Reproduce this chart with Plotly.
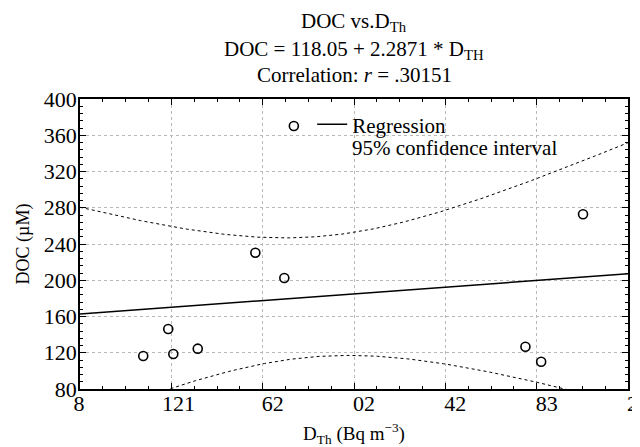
import numpy as np
import plotly.graph_objects as go

# ---- data ----
d_th = [21.75, 22.64, 22.82, 23.69, 25.74, 26.77, 27.11, 35.35, 35.91, 37.40]
doc = [116.4, 146.2, 118.6, 124.5, 230.4, 202.5, 370.2, 126.7, 110.1, 272.8]

intercept = 118.05
slope = 2.2871
t_crit = 2.306  # t(0.975, df = 8)

x_tick_vals = [19.5, 22.75, 26.0, 29.25, 32.5, 35.75, 39.0]
x_tick_text = ["8", "121", "62", "02", "42", "83", "2"]
y_tick_vals = [80, 120, 160, 200, 240, 280, 320, 360, 400]

title_lines = [
    "DOC vs.D<sub>Th</sub>",
    "DOC = 118.05 + 2.2871 * D<sub>TH</sub>",
    "Correlation: <i>r</i> = .30151",
]
ci_label = "95% confidence interval"

# ---- regression & confidence band ----
x = np.array(d_th)
y = np.array(doc)
n = len(x)
xbar = x.mean()
sxx = ((x - xbar) ** 2).sum()
resid = y - (intercept + slope * x)
s = np.sqrt((resid ** 2).sum() / (n - 2))
xs = np.linspace(x_tick_vals[0], x_tick_vals[-1], 200)
yhat = intercept + slope * xs
half = t_crit * s * np.sqrt(1.0 / n + (xs - xbar) ** 2 / sxx)

FONT = "Liberation Serif"
NB = "\u00a0"
# label placement padding (the reference labels sit mostly right of their ticks)
pad_right = [4, 1, 0, 0, 0, 0, 2]
x_labels_display = [t + NB * p for t, p in zip(x_tick_text, pad_right)]

fig = go.Figure()
fig.add_trace(go.Scatter(x=d_th, y=doc, mode="markers", showlegend=False,
                         marker=dict(symbol="circle-open", size=9,
                                     color="black", line=dict(width=1.6))))
fig.add_trace(go.Scatter(x=xs, y=yhat, mode="lines", name="Regression",
                         line=dict(color="black", width=1.5)))
fig.add_trace(go.Scatter(x=xs, y=yhat + half, mode="lines", showlegend=False,
                         name=ci_label,
                         line=dict(color="black", width=1, dash="dot")))
fig.add_trace(go.Scatter(x=xs, y=yhat - half, mode="lines", showlegend=False,
                         name=ci_label,
                         line=dict(color="black", width=1, dash="dot")))

axis_common = dict(
    showline=True, linecolor="black", linewidth=1.5, mirror="allticks",
    ticks="inside", ticklen=6, tickwidth=1, tickcolor="black",
    showgrid=True, gridcolor="#b8b8b8", gridwidth=1, griddash="dot",
    zeroline=False, automargin=False, ticklabeloverflow="allow",
    tickfont=dict(family=FONT, size=22, color="black"),
)

fig.update_xaxes(
    range=[x_tick_vals[0], x_tick_vals[-1]],
    tickmode="array", tickvals=x_tick_vals, ticktext=x_labels_display,
    ticklabelshift=10, ticklabelstandoff=-6,
    minor=dict(ticks="inside", ticklen=3, tickcolor="black",
               dtick=(x_tick_vals[1] - x_tick_vals[0]) / 4,
               tick0=x_tick_vals[0], showgrid=False),
    title=dict(text="D<sub>Th</sub> (Bq m<sup>−3</sup>)",
               font=dict(family=FONT, size=19, color="black"), standoff=16),
    **axis_common,
)
fig.update_yaxes(
    range=[80, 400],
    tickmode="array", tickvals=y_tick_vals,
    ticklabelstandoff=-3,
    minor=dict(ticks="inside", ticklen=3, tickcolor="black",
               dtick=8, tick0=80, showgrid=False),
    title=dict(text="DOC (µM)",
               font=dict(family=FONT, size=18, color="black"), standoff=10),
    **axis_common,
)

title_y = [1.265, 1.168, 1.083]
for txt, ty in zip(title_lines, title_y):
    fig.add_annotation(text=txt, x=0.5, xref="paper", xanchor="center",
                       y=ty, yref="paper", yanchor="middle", showarrow=False,
                       font=dict(family=FONT, size=21, color="black"))

fig.add_annotation(text=ci_label, x=0.4964, xref="paper", xanchor="left",
                   y=0.830, yref="paper", yanchor="middle", showarrow=False,
                   xshift=-2,
                   font=dict(family=FONT, size=21, color="black"))

# the page body has an 8px margin, so the figure is sized/positioned for it
fig.update_layout(
    template="none",
    width=632, height=439,
    margin=dict(l=72, r=12, t=91, b=58, autoexpand=False),
    paper_bgcolor="white", plot_bgcolor="white",
    font=dict(family=FONT, size=18, color="black"),
    showlegend=True,
    legend=dict(x=0.4237, y=0.982, xanchor="left", yanchor="top",
                bgcolor="rgba(0,0,0,0)", borderwidth=0,
                font=dict(family=FONT, size=21, color="black"),
                tracegroupgap=0, itemwidth=30),
)

fig.write_html("out.html")
